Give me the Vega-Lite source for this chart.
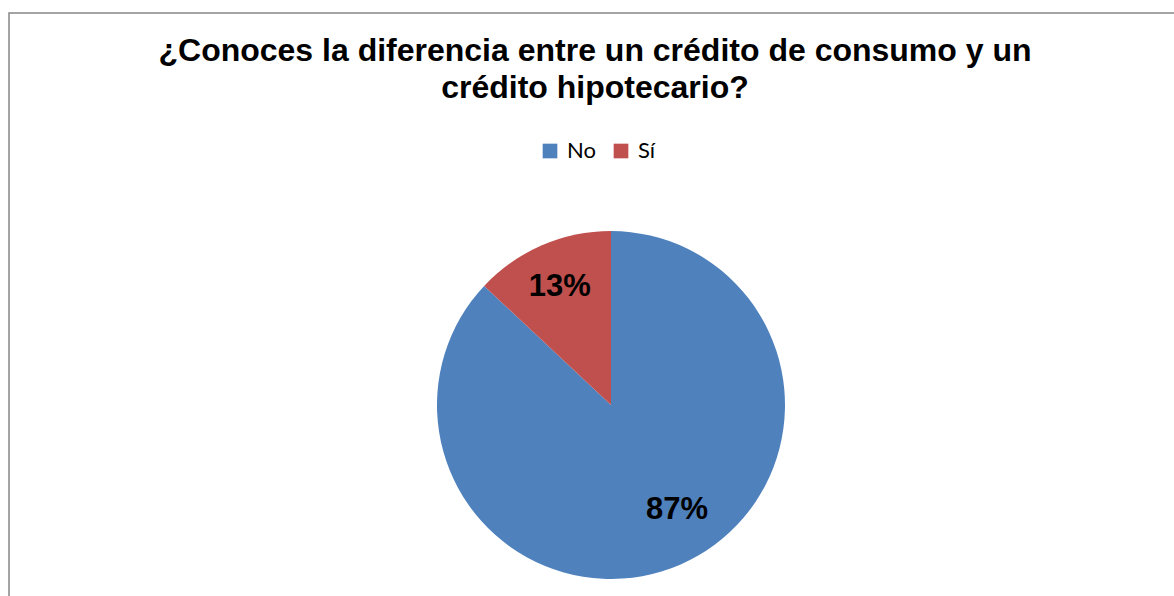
{
  "$schema": "https://vega.github.io/schema/vega-lite/v6.json",
  "autosize": "none",
  "padding": {"left": 9, "top": 13, "right": 0, "bottom": 0},
  "width": 1204,
  "height": 784,
  "background": "white",
  "view": {"stroke": "#878787", "strokeWidth": 1.5},
  "config": {"view": {"stroke": "#878787", "strokeWidth": 1.5}},
  "title": {
    "text": ["¿Conoces la diferencia entre un crédito de consumo y un", "crédito hipotecario?"],
    "font": "Liberation Sans",
    "fontSize": 32,
    "fontWeight": "bold",
    "color": "black",
    "lineHeight": 37,
    "anchor": "middle",
    "frame": "group",
    "dx": -16,
    "offset": -92
  },
  "data": {"values": [
    {"respuesta": "No", "valor": 87, "etiqueta": "87%"},
    {"respuesta": "Sí", "valor": 13, "etiqueta": "13%"}
  ]},
  "encoding": {
    "theta": {"field": "valor", "type": "quantitative", "stack": true},
    "order": {"field": "respuesta", "sort": "ascending"}
  },
  "layer": [
    {
      "mark": {"type": "arc", "radius": 174},
      "encoding": {
        "color": {
          "field": "respuesta", "type": "nominal",
          "scale": {"domain": ["No", "Sí"], "range": ["#4F81BD", "#C0504D"]},
          "legend": {
            "title": null,
            "orient": "none",
            "direction": "horizontal",
            "legendX": 530,
            "legendY": 127,
            "symbolType": "square",
            "symbolSize": 215,
            "symbolStrokeWidth": 0,
            "labelFont": "Lato",
            "labelFontSize": 22,
            "labelColor": "black",
            "columnPadding": 14,
            "labelOffset": 6
          }
        }
      }
    },
    {
      "mark": {"type": "text", "radius": 124, "thetaOffset": -0.154, "font": "Liberation Sans", "fontSize": 31, "fontWeight": "bold", "color": "black"},
      "encoding": {"text": {"condition": {"test": "datum.respuesta === 'No'", "field": "etiqueta"}, "value": ""}}
    },
    {
      "mark": {"type": "text", "radius": 129, "font": "Liberation Sans", "fontSize": 31, "fontWeight": "bold", "color": "black"},
      "encoding": {"text": {"condition": {"test": "datum.respuesta === 'Sí'", "field": "etiqueta"}, "value": ""}}
    }
  ]
}
